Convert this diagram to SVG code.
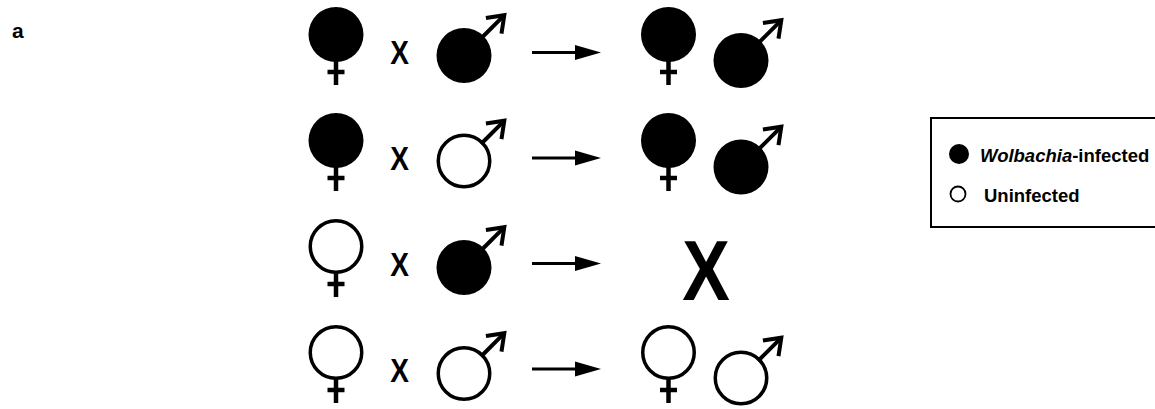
<svg xmlns="http://www.w3.org/2000/svg" xmlns:xlink="http://www.w3.org/1999/xlink" width="1155" height="409" viewBox="0 0 1155 409">
<style>
.t{font-family:"Liberation Sans",Arial,sans-serif;font-weight:bold;fill:#000}
.ln{stroke:#000;stroke-width:4.5;fill:none}
.ar{stroke:#000;stroke-width:3;fill:none}
.mk{stroke:#000;stroke-width:4;fill:none;stroke-linejoin:miter;stroke-miterlimit:10}
</style>
<defs>
<marker id="ah" markerWidth="26" markerHeight="16" refX="0" refY="0" viewBox="0 -8 26 16" markerUnits="userSpaceOnUse" orient="auto" overflow="visible">
<path d="M0,-7.5 L26,0 L0,7.5 Z" fill="#000"/>
</marker>
<g id="cross"><line class="ln" x1="0" y1="26" x2="0" y2="50.5"/><line class="ln" x1="-8.5" y1="37.5" x2="8.5" y2="37.5"/></g>
<g id="arrowM"><g transform="rotate(-45)"><line class="mk" x1="24" y1="0" x2="55" y2="0"/><polyline class="mk" points="42,-11 57,0 42,11"/></g></g>
<g id="femF"><circle r="27.5" fill="#000"/><use xlink:href="#cross"/></g>
<g id="femO"><circle r="25.75" fill="#fff" stroke="#000" stroke-width="3.5"/><use xlink:href="#cross"/></g>
<g id="maleF"><circle r="27.5" fill="#000"/><use xlink:href="#arrowM"/></g>
<g id="maleO"><circle r="25.75" fill="#fff" stroke="#000" stroke-width="3.5"/><use xlink:href="#arrowM"/></g>
</defs>
<rect width="1155" height="409" fill="#fff"/>
<text class="t" x="12" y="38" font-size="21">a</text>

<g id="row1">
<g id="r1-female"><use xlink:href="#femF" x="336" y="34.5"/></g>
<g id="r1-cross"><text class="t" font-size="33" text-anchor="middle" transform="translate(399.5,63.5) scale(0.85,1)">X</text></g>
<g id="r1-male"><use xlink:href="#maleF" x="464" y="55.5"/></g>
<g id="r1-off-female"><use xlink:href="#femF" x="668.5" y="34.5"/></g>
<g id="r1-off-male"><use xlink:href="#maleF" x="741" y="60.5"/></g>
</g>
<g id="row2">
<g id="r2-female"><use xlink:href="#femF" x="336" y="140.5"/></g>
<g id="r2-cross"><text class="t" font-size="33" text-anchor="middle" transform="translate(399.5,169.5) scale(0.85,1)">X</text></g>
<g id="r2-male"><use xlink:href="#maleO" x="464" y="161"/></g>
<g id="r2-off-female"><use xlink:href="#femF" x="668.5" y="140.5"/></g>
<g id="r2-off-male"><use xlink:href="#maleF" x="741" y="167"/></g>
</g>
<g id="row3">
<g id="r3-female"><use xlink:href="#femO" x="336" y="246.5"/></g>
<g id="r3-cross"><text class="t" font-size="33" text-anchor="middle" transform="translate(399.5,276) scale(0.85,1)">X</text></g>
<g id="r3-male"><use xlink:href="#maleF" x="464" y="267.5"/></g>
<g id="r3-result"><text class="t" font-size="86" text-anchor="middle" transform="translate(706,300) scale(0.83,1)">X</text></g>
</g>
<g id="row4">
<g id="r4-female"><use xlink:href="#femO" x="336" y="352.5"/></g>
<g id="r4-cross"><text class="t" font-size="33" text-anchor="middle" transform="translate(399.5,382) scale(0.85,1)">X</text></g>
<g id="r4-male"><use xlink:href="#maleO" x="464" y="373.5"/></g>
<g id="r4-off-female"><use xlink:href="#femO" x="668.5" y="352.5"/></g>
<g id="r4-off-male"><use xlink:href="#maleO" x="741" y="378"/></g>
</g>

<g id="connectors">
<line class="ar" x1="532" y1="52.5" x2="575" y2="52.5" marker-end="url(#ah)"/>
<line class="ar" x1="532" y1="158" x2="575" y2="158" marker-end="url(#ah)"/>
<line class="ar" x1="532" y1="263.5" x2="575" y2="263.5" marker-end="url(#ah)"/>
<line class="ar" x1="532" y1="369" x2="575" y2="369" marker-end="url(#ah)"/>
</g>

<g id="legend">
<rect x="931" y="118" width="240" height="109" fill="none" stroke="#000" stroke-width="2"/>
<circle cx="959" cy="154" r="10" fill="#000"/>
<text class="t" x="980" y="161.5" font-size="18.5"><tspan font-style="italic">Wolbachia</tspan>-infected</text>
<circle cx="958" cy="194" r="7.5" fill="#fff" stroke="#000" stroke-width="1.8"/>
<text class="t" x="984" y="201.5" font-size="18.5">Uninfected</text>
</g>
</svg>
